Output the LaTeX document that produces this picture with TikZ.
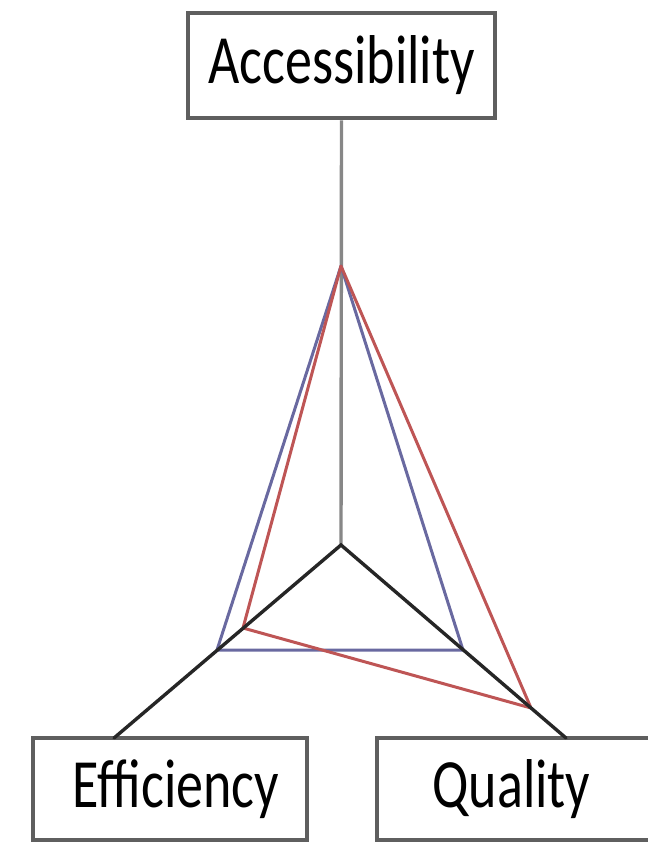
\documentclass[tikz,border=0pt]{standalone}
\usepackage{fontspec}
\usepackage{graphicx}
\setmainfont{Carlito}
\definecolor{boxgray}{RGB}{95,95,95}
\definecolor{axisgray}{RGB}{135,135,135}
\definecolor{tblue}{RGB}{105,105,160}
\definecolor{tred}{RGB}{190,85,85}
\tikzset{
  lbox/.style={draw=boxgray, line width=4.5pt, fill=white, inner sep=0pt,
    font=\fontsize{54}{60}\selectfont},
  axis/.style={line width=3.4pt, line cap=round},
  tri/.style={line width=3pt, line join=round}
}
\begin{document}
\begin{tikzpicture}[x=1pt,y=-1pt]
\useasboundingbox (0,0) rectangle (648,844);
% boxes
\node[lbox, minimum width=307pt, minimum height=105pt] (acc) at (341.5,65.5) {\raisebox{-4pt}{\scalebox{1}[1.28]{Accessibility}}};
\node[lbox, minimum width=274pt, minimum height=102pt] (eff) at (170,789) {\hspace{12pt}\raisebox{-5pt}{\scalebox{1}[1.28]{Efficiency}}};
\node[lbox, minimum width=285pt, minimum height=102pt] (qua) at (519.5,789) {\hspace{-16pt}\raisebox{-5pt}{\scalebox{1}[1.28]{Quality}}};
% axis points
\coordinate (C) at (341,545);
\coordinate (ea) at (114,738);
\coordinate (qa) at (566,738);
\coordinate (ap) at (341,266);
\coordinate (bl) at (217,650);
\coordinate (br) at (463,650);
\coordinate (rl) at (243,628);
\coordinate (rr) at (531,708);
% accessibility axis
\draw[axis, axisgray, line cap=butt] (acc.south) -- (C);
% blue triangle
\draw[tri, tblue] (ap) -- (bl) -- (br) -- cycle;
% red triangle
\draw[tri, tred] (ap) -- (rl) -- (rr) -- cycle;
% black axes
\draw[axis, black!85] (ea) -- (C) -- (qa);
\end{tikzpicture}
\end{document}
